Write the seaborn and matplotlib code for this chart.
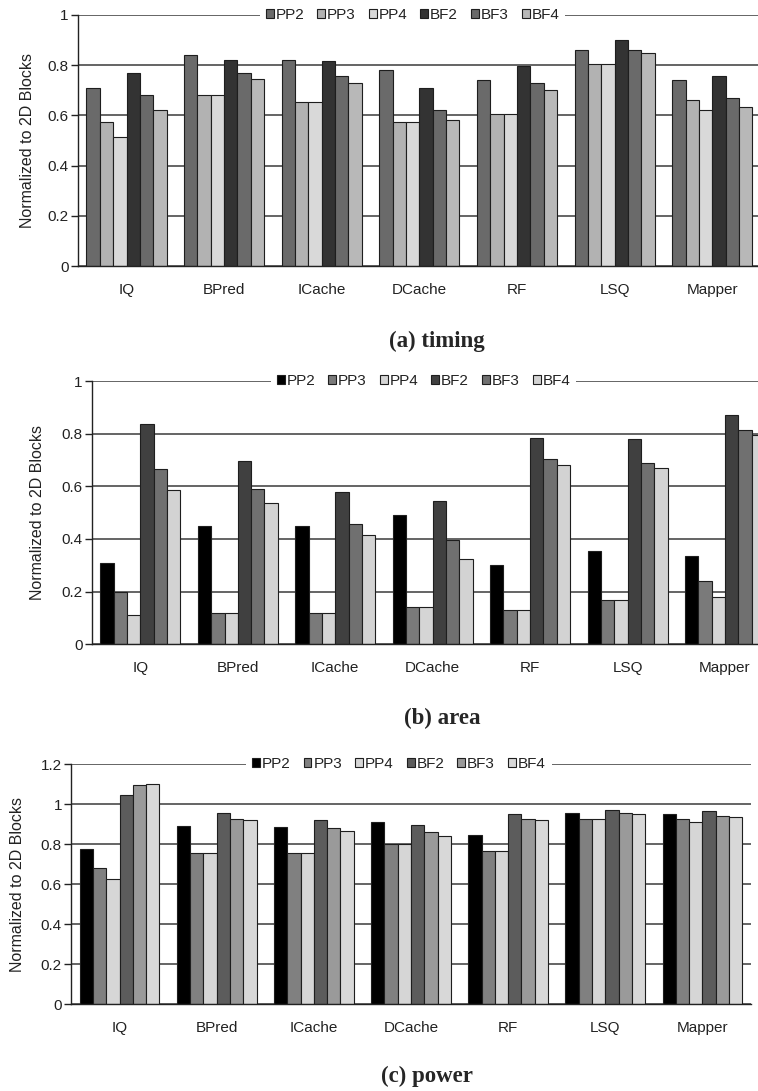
import numpy as np
import pandas as pd
import matplotlib
matplotlib.use("Agg")
import matplotlib.pyplot as plt
from matplotlib.ticker import FixedLocator, FuncFormatter
import seaborn as sns

components = ["IQ", "BPred", "ICache", "DCache", "RF", "LSQ", "Mapper"]
configs = ["PP2", "PP3", "PP4", "BF2", "BF3", "BF4"]

# (a) timing, normalized to the 2D blocks
timing_pp2 = [0.71, 0.84, 0.82, 0.78, 0.74, 0.86, 0.74]
timing_pp3 = [0.575, 0.68, 0.655, 0.575, 0.605, 0.805, 0.66]
timing_pp4 = [0.515, 0.68, 0.655, 0.575, 0.605, 0.805, 0.62]
timing_bf2 = [0.77, 0.82, 0.815, 0.71, 0.795, 0.90, 0.755]
timing_bf3 = [0.68, 0.77, 0.755, 0.62, 0.73, 0.86, 0.67]
timing_bf4 = [0.62, 0.745, 0.73, 0.58, 0.70, 0.85, 0.635]

# (b) area
area_pp2 = [0.31, 0.45, 0.45, 0.49, 0.30, 0.355, 0.335]
area_pp3 = [0.20, 0.12, 0.12, 0.14, 0.13, 0.17, 0.24]
area_pp4 = [0.11, 0.12, 0.12, 0.14, 0.13, 0.17, 0.18]
area_bf2 = [0.835, 0.695, 0.58, 0.545, 0.785, 0.78, 0.87]
area_bf3 = [0.665, 0.59, 0.455, 0.395, 0.705, 0.69, 0.815]
area_bf4 = [0.585, 0.535, 0.415, 0.325, 0.68, 0.67, 0.795]

# (c) power
power_pp2 = [0.775, 0.89, 0.885, 0.91, 0.845, 0.955, 0.95]
power_pp3 = [0.68, 0.755, 0.755, 0.80, 0.765, 0.925, 0.925]
power_pp4 = [0.625, 0.755, 0.755, 0.80, 0.765, 0.925, 0.91]
power_bf2 = [1.045, 0.955, 0.92, 0.895, 0.95, 0.97, 0.965]
power_bf3 = [1.095, 0.925, 0.88, 0.86, 0.925, 0.955, 0.94]
power_bf4 = [1.10, 0.92, 0.865, 0.84, 0.92, 0.95, 0.935]

timing_ticks = [0, 0.2, 0.4, 0.6, 0.8, 1.0]
area_ticks = [0, 0.2, 0.4, 0.6, 0.8, 1.0]
power_ticks = [0, 0.2, 0.4, 0.6, 0.8, 1.0, 1.2]

timing_colors = ["#6a6a6a", "#b2b2b2", "#d9d9d9", "#333333", "#6a6a6a", "#b8b8b8"]
area_colors = ["#000000", "#7a7a7a", "#d5d5d5", "#404040", "#707070", "#d3d3d3"]
power_colors = ["#000000", "#808080", "#d6d6d6", "#5c5c5c", "#9a9a9a", "#d8d8d8"]


def long_table(series):
    rows = []
    for cfg, vals in zip(configs, series):
        for comp, v in zip(components, vals):
            rows.append({"component": comp, "config": cfg, "value": v})
    return pd.DataFrame(rows)


sns.set_style("white")
plt.rcParams["font.family"] = ["Liberation Sans", "DejaVu Sans"]

fig = plt.figure(figsize=(7.58, 10.91), dpi=100)
W, H = 758.0, 1091.0


def axes_px(left, right, top, bottom):
    return fig.add_axes([left / W, 1 - bottom / H, (right - left) / W, (bottom - top) / H])


panels = [
    dict(series=[timing_pp2, timing_pp3, timing_pp4, timing_bf2, timing_bf3, timing_bf4],
         colors=timing_colors, ticks=timing_ticks,
         box=(77.7, 761.0, 15.0, 266.0), ylab_x=-0.062, leg_x=0.49,
         title="(a) timing", title_xy=(437, 341)),
    dict(series=[area_pp2, area_pp3, area_pp4, area_bf2, area_bf3, area_bf4],
         colors=area_colors, ticks=area_ticks,
         box=(91.7, 773.7, 381.0, 644.3), ylab_x=-0.068, leg_x=0.4865,
         title="(b) area", title_xy=(442, 718)),
    dict(series=[power_pp2, power_pp3, power_pp4, power_bf2, power_bf3, power_bf4],
         colors=power_colors, ticks=power_ticks,
         box=(71.0, 751.0, 764.3, 1004.3), ylab_x=-0.067, leg_x=0.482,
         title="(c) power", title_xy=(427, 1076)),
]


def fmt(v, _pos):
    return ("%.1f" % v).rstrip("0").rstrip(".")


for p in panels:
    ax = axes_px(*p["box"])
    df = long_table(p["series"])
    sns.barplot(data=df, x="component", y="value", hue="config",
                order=components, hue_order=configs, palette=p["colors"],
                edgecolor="#1e1e1e", linewidth=0.8, width=0.82, saturation=1,
                errorbar=None, ax=ax)
    ax.set_xlim(-0.5, len(components) - 0.5)
    ax.set_ylim(0, p["ticks"][-1])
    ax.yaxis.set_major_locator(FixedLocator(p["ticks"]))
    ax.yaxis.set_major_formatter(FuncFormatter(fmt))
    ax.grid(axis="y", color="#3a3a3a", linewidth=1.1)
    ax.grid(axis="x", visible=False)
    ax.set_axisbelow(True)
    for s in ("top", "right"):
        ax.spines[s].set_visible(False)
    for s in ("left", "bottom"):
        ax.spines[s].set_color("#222222")
        ax.spines[s].set_linewidth(1.0)
    ax.xaxis.set_minor_locator(FixedLocator(np.arange(-0.5, len(components), 1.0)))
    ax.tick_params(axis="x", which="major", length=0, pad=12, labelsize=11, colors="#222222")
    ax.tick_params(axis="x", which="minor", length=6, width=1.0, color="#222222", direction="out")
    ax.tick_params(axis="y", which="major", left=True, length=5, width=1.0, pad=1.5,
                   labelsize=11, color="#222222", labelcolor="#222222")
    ax.set_xlabel("")
    ax.set_ylabel("Normalized to 2D Blocks", fontsize=11.5, color="#222222")
    ax.yaxis.set_label_coords(p["ylab_x"], 0.5)

    handles, labels = ax.get_legend_handles_labels()
    ax.legend(handles, labels, loc="center", bbox_to_anchor=(p["leg_x"], 1.0),
              ncol=6, frameon=True, facecolor="white", edgecolor="none", framealpha=1,
              fontsize=11, handlelength=0.52, handleheight=0.52, handletextpad=0.12,
              columnspacing=0.85, borderpad=0.4, borderaxespad=0, fancybox=False)
    for t in ax.get_legend().get_texts():
        t.set_color("#222222")

    tx, ty = p["title_xy"]
    fig.text(tx / W, 1 - ty / H, p["title"], ha="center", va="center",
             fontsize=16.5, fontweight="bold", family=["Liberation Serif", "DejaVu Serif"])

fig.savefig("out.png", dpi=100, facecolor="white")
